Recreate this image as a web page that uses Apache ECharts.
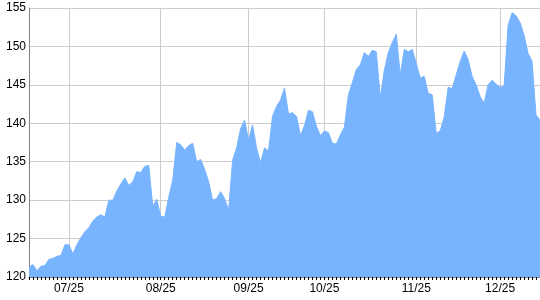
<!DOCTYPE html>
<html>
<head>
<meta charset="utf-8">
<script src="https://cdn.jsdelivr.net/npm/echarts@6/dist/echarts.min.js"></script>
<style>
html,body{margin:0;padding:0;background:#fff;}
#chart{width:540px;height:300px;}
</style>
</head>
<body>
<div id="chart"></div>
<script>
var values = [
  121.3,121.6,120.8,121.4,121.5,122.3,122.4,122.7,122.8,124.2,
  124.2,123.0,124.2,125.1,125.9,126.4,127.3,127.8,128.1,127.8,
  130.0,130.0,131.2,132.1,132.9,131.9,132.4,133.7,133.6,134.4,
  134.5,129.2,130.1,127.9,127.8,130.4,132.6,137.5,137.2,136.5,
  137.1,137.4,135.0,135.3,134.0,132.4,130.0,130.2,131.1,130.2,
  128.7,135.2,136.8,139.3,140.4,137.8,139.8,136.8,134.9,136.8,
  136.4,140.9,142.2,143.0,144.6,141.2,141.4,140.9,138.4,139.7,
  141.7,141.5,139.6,138.4,139.0,138.8,137.4,137.3,138.5,139.5,
  143.7,145.3,147.0,147.6,149.2,148.7,149.5,149.3,143.3,146.9,
  149.2,150.5,151.6,146.3,149.6,149.3,149.6,147.8,145.9,146.1,
  143.9,143.7,138.7,139.0,140.8,144.7,144.5,146.3,148.0,149.4,
  148.3,146.1,145.0,143.5,142.6,145.0,145.6,145.1,144.7,144.8,
  152.7,154.4,154.0,153.1,151.5,149.1,148.1,141.1,140.4
];
var monthLabels = ['07/25','08/25','09/25','10/25','11/25','12/25'];
var monthStartIndex = [10, 33, 55, 74, 97, 118];
var yTicks = [120,125,130,135,140,145,150,155];

var categories = values.map(function(_, i){ return i; });
function isMonthStart(i){ return monthStartIndex.indexOf(i) >= 0; }

var chart = echarts.init(document.getElementById('chart'), null, {renderer:'canvas'});
chart.setOption({
  animation: false,
  backgroundColor: '#ffffff',
  grid: {left: 29, right: 0, top: 8, bottom: 23, containLabel: false},
  xAxis: {
    type: 'category',
    data: categories,
    boundaryGap: false,
    axisLine: {show: true, lineStyle: {color: '#808080', width: 1}},
    axisTick: {show: true, interval: 0, length: 3, lineStyle: {color: '#000000', width: 1}},
    axisLabel: {
      interval: function(i){ return isMonthStart(i); },
      formatter: function(v){ return monthLabels[monthStartIndex.indexOf(Number(v))] || ''; },
      color: '#000000', fontFamily: 'Liberation Sans, Arial, sans-serif', fontSize: 12, margin: 6
    },
    splitLine: {show: true, interval: function(i){ return isMonthStart(i); }, lineStyle: {color: '#cccccc', width: 1}}
  },
  yAxis: {
    type: 'value',
    min: yTicks[0], max: yTicks[yTicks.length-1], interval: 5,
    axisLine: {show: true, lineStyle: {color: '#808080', width: 1}},
    axisTick: {show: false},
    axisLabel: {color: '#000000', fontFamily: 'Liberation Sans, Arial, sans-serif', fontSize: 12, margin: 3},
    splitLine: {show: true, lineStyle: {color: '#cccccc', width: 1}}
  },
  series: [{
    type: 'line',
    data: values,
    symbol: 'none',
    smooth: false,
    lineStyle: {color: '#78b4fe', width: 1},
    itemStyle: {color: '#78b4fe'},
    areaStyle: {color: '#78b4fe', opacity: 1}
  }]
});
</script>
</body>
</html>
